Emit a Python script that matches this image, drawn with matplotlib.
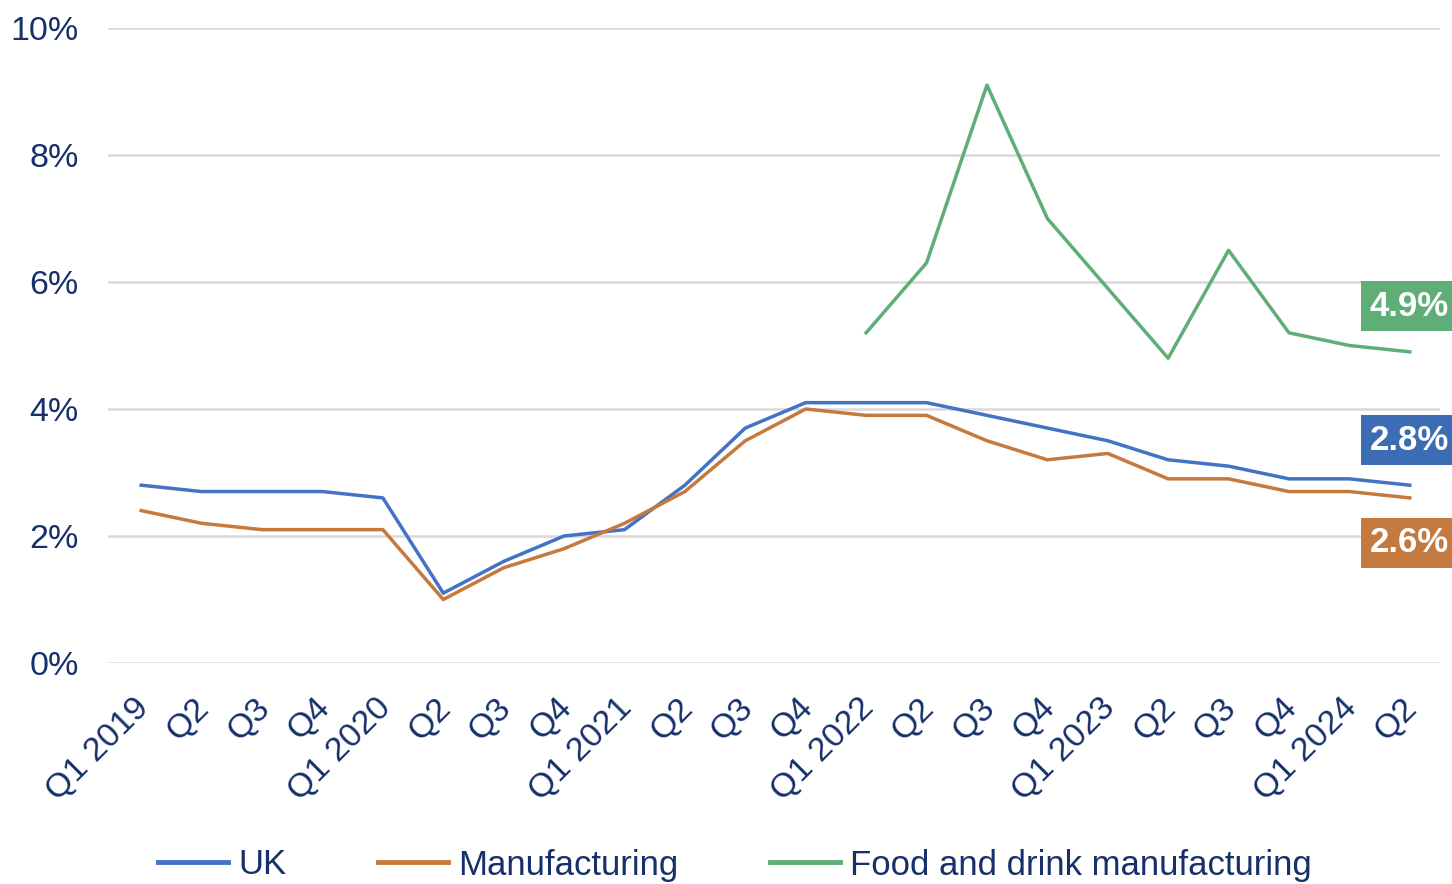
import matplotlib
matplotlib.use("Agg")
import matplotlib.pyplot as plt
import matplotlib.transforms as mtransforms
import numpy as np

quarters = ["Q1 2019", "Q2", "Q3", "Q4", "Q1 2020", "Q2", "Q3", "Q4", "Q1 2021", "Q2", "Q3", "Q4",
            "Q1 2022", "Q2", "Q3", "Q4", "Q1 2023", "Q2", "Q3", "Q4", "Q1 2024", "Q2"]
uk = [2.8, 2.7, 2.7, 2.7, 2.6, 1.1, 1.6, 2.0, 2.1, 2.8, 3.7, 4.1,
      4.1, 4.1, 3.9, 3.7, 3.5, 3.2, 3.1, 2.9, 2.9, 2.8]
manufacturing = [2.4, 2.2, 2.1, 2.1, 2.1, 1.0, 1.5, 1.8, 2.2, 2.7, 3.5, 4.0,
                 3.9, 3.9, 3.5, 3.2, 3.3, 2.9, 2.9, 2.7, 2.7, 2.6]
food = [None] * 12 + [5.2, 6.3, 9.1, 7.0, 5.9, 4.8, 6.5, 5.2, 5.0, 4.9]
end_labels = ["4.9%", "2.8%", "2.6%"]

plt.rcParams['font.family'] = ['Liberation Sans', 'DejaVu Sans']
navy = "#15306a"
c_uk = "#4472c4"
c_man = "#c47a3e"
c_food = "#5fae78"

fig = plt.figure(figsize=(14.52, 8.84), dpi=100)
ax = fig.add_axes([108/1452, 1-663/884, (1440-108)/1452, (663-28)/884])

x = np.arange(len(quarters))
food_arr = np.array([np.nan if v is None else v for v in food])
ax.plot(x, uk, color=c_uk, lw=2.5, label="UK")
ax.plot(x, manufacturing, color=c_man, lw=2.5, label="Manufacturing")
ax.plot(x, food_arr, color=c_food, lw=2.5, label="Food and drink manufacturing")

ax.set_xlim(-0.55, 21.5)
ax.set_ylim(0, 10)
ax.set_yticks(range(0, 11, 2))
ax.set_yticklabels([f"{v}%" for v in range(0, 11, 2)])
ax.yaxis.grid(True, color="#d9d9d9", lw=1.8)
ax.set_axisbelow(True)
for s in ax.spines.values():
    s.set_visible(False)
ax.tick_params(axis='y', length=0, pad=21, labelsize=24.5, labelcolor=navy)
ax.set_xticks(x)
ax.set_xticklabels(quarters, rotation=45, ha='right', rotation_mode='anchor')
ax.tick_params(axis='x', length=0, pad=21, labelsize=24.5, labelcolor=navy)
offset = mtransforms.ScaledTranslation(-8/100, 0, fig.dpi_scale_trans)
for lbl in ax.get_xticklabels():
    lbl.set_transform(lbl.get_transform() + offset)

# End labels (boxes)
box_y = [5.62, 3.51, 1.89]
box_c = [c_food, "#3c6db4", c_man]
for txt, yv, cc in zip(end_labels, box_y, box_c):
    ax.text(20.33, yv, txt, ha='left', va='center', fontsize=25, fontweight='bold',
            color='white', clip_on=False,
            bbox=dict(boxstyle='square,pad=0.25', fc=cc, ec='none'))

leg = fig.legend(loc='center', bbox_to_anchor=(735/1452, 1-865/884), ncol=3, frameon=False,
                 fontsize=25, handlelength=2.0, handletextpad=0.3, columnspacing=2.65)
for t in leg.get_texts():
    t.set_color(navy)
for l in leg.get_lines():
    l.set_linewidth(3.5)

fig.savefig("out.png", dpi=100)
